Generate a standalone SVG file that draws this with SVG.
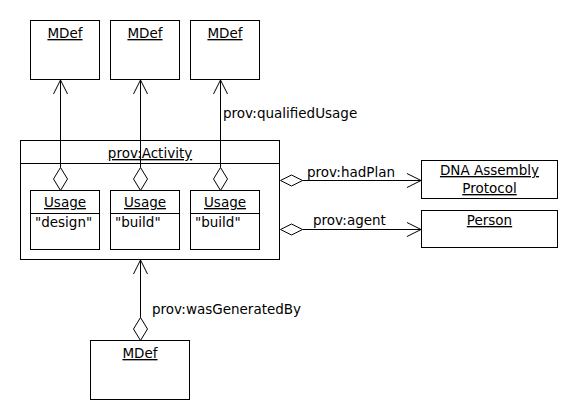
<svg xmlns="http://www.w3.org/2000/svg" width="580" height="420" viewBox="0 0 580 420">
<defs>
<style>
.box{fill:#fff;stroke:#000;stroke-width:1}
.ln{fill:none;stroke:#000;stroke-width:1}
.dia{fill:#fff;stroke:#000;stroke-width:1}
text{font-family:"DejaVu Sans","Liberation Sans",sans-serif;font-size:13.5px;fill:#000}
.c{text-anchor:middle;text-decoration:underline}
</style>
<marker id="open" viewBox="0 0 16 16" refX="15" refY="8" markerWidth="16" markerHeight="16" markerUnits="userSpaceOnUse" orient="auto">
<path d="M1,1 L15,8 L1,15" fill="none" stroke="#000" stroke-width="1"/>
</marker>
</defs>
<rect width="580" height="420" fill="#fff"/>

<g id="mdef1"><rect class="box" x="30.5" y="20.5" width="69" height="59"/><text class="c" x="65" y="38">MDef</text></g>
<g id="mdef2"><rect class="box" x="110.5" y="20.5" width="69" height="59"/><text class="c" x="145" y="38">MDef</text></g>
<g id="mdef3"><rect class="box" x="190.5" y="20.5" width="69" height="59"/><text class="c" x="225" y="38">MDef</text></g>

<g id="activity">
<rect class="box" x="20.5" y="140.5" width="259" height="119"/>
<line class="ln" x1="20.5" y1="163.5" x2="279.5" y2="163.5"/>
<text class="c" x="150" y="158">prov:Activity</text>
</g>

<g id="usage1"><rect class="box" x="30.5" y="190.5" width="69" height="59"/><line class="ln" x1="30.5" y1="213.5" x2="99.5" y2="213.5"/><text class="c" x="65" y="207">Usage</text><text x="35" y="227">"design"</text></g>
<g id="usage2"><rect class="box" x="110.5" y="190.5" width="69" height="59"/><line class="ln" x1="110.5" y1="213.5" x2="179.5" y2="213.5"/><text class="c" x="145" y="207">Usage</text><text x="115" y="227">"build"</text></g>
<g id="usage3"><rect class="box" x="190.5" y="190.5" width="69" height="59"/><line class="ln" x1="190.5" y1="213.5" x2="259.5" y2="213.5"/><text class="c" x="225" y="207">Usage</text><text x="195" y="227">"build"</text></g>

<g id="plan"><rect class="box" x="421.5" y="160.5" width="136" height="38"/><text class="c" x="489.5" y="175">DNA Assembly</text><text class="c" x="489.5" y="193">Protocol</text></g>
<g id="person"><rect class="box" x="421.5" y="210.5" width="136" height="37"/><text class="c" x="489.5" y="225">Person</text></g>

<g id="mdef4"><rect class="box" x="90.5" y="340.5" width="99" height="59"/><text class="c" x="140" y="358">MDef</text></g>

<g id="connectors">
<line class="ln" x1="60.5" y1="167.5" x2="60.5" y2="80" marker-end="url(#open)"/>
<path class="dia" d="M60.5,167.5 L67.5,179 L60.5,190.5 L53.5,179 Z"/>
<line class="ln" x1="140.5" y1="167.5" x2="140.5" y2="80" marker-end="url(#open)"/>
<path class="dia" d="M140.5,167.5 L147.5,179 L140.5,190.5 L133.5,179 Z"/>
<line class="ln" x1="220.5" y1="167.5" x2="220.5" y2="80" marker-end="url(#open)"/>
<path class="dia" d="M220.5,167.5 L227.5,179 L220.5,190.5 L213.5,179 Z"/>
<text x="223" y="118">prov:qualifiedUsage</text>

<line class="ln" x1="302.5" y1="180.5" x2="421" y2="180.5" marker-end="url(#open)"/>
<path class="dia" d="M280.5,180.5 L291.5,175 L302.5,180.5 L291.5,186 Z"/>
<text x="307" y="177">prov:hadPlan</text>

<line class="ln" x1="302.5" y1="229.5" x2="421" y2="229.5" marker-end="url(#open)"/>
<path class="dia" d="M280.5,229.5 L291.5,224 L302.5,229.5 L291.5,235 Z"/>
<text x="313" y="225">prov:agent</text>

<line class="ln" x1="140.5" y1="317.5" x2="140.5" y2="260" marker-end="url(#open)"/>
<path class="dia" d="M140.5,317.5 L147.5,329 L140.5,340.5 L133.5,329 Z"/>
<text x="152" y="314">prov:wasGeneratedBy</text>
</g>
</svg>
